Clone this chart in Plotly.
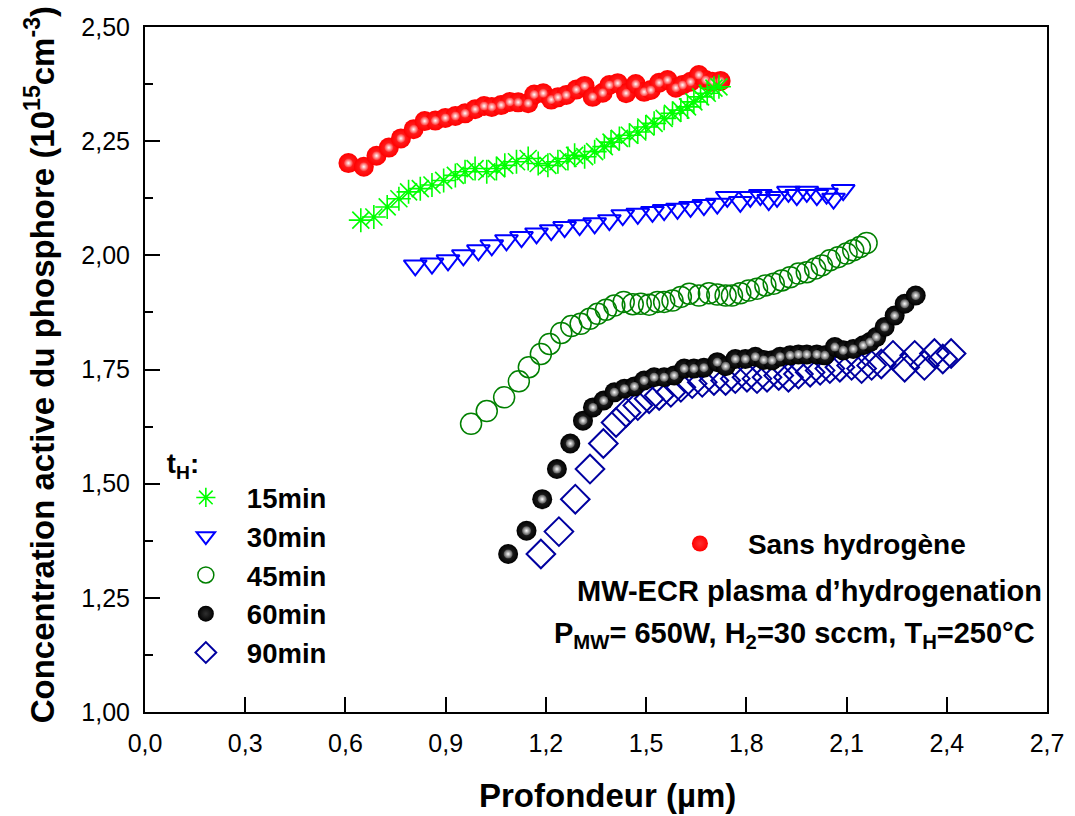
import plotly.graph_objects as go

# Profondeur (µm) / concentration active (1e15 cm^-3)
sans_h_x = [0.609, 0.655, 0.693, 0.730, 0.766, 0.804, 0.837, 0.869, 0.899, 0.929, 0.958, 0.988,
            1.015, 1.038, 1.066, 1.092, 1.117, 1.147, 1.165, 1.192, 1.216, 1.236, 1.261, 1.291,
            1.316, 1.340, 1.370, 1.390, 1.415, 1.440, 1.469, 1.494, 1.514, 1.539, 1.564, 1.589,
            1.609, 1.633, 1.658, 1.678, 1.698, 1.723]
sans_h_y = [2.202, 2.194, 2.218, 2.236, 2.256, 2.276, 2.294, 2.295, 2.301, 2.305, 2.311, 2.320,
            2.327, 2.325, 2.329, 2.336, 2.335, 2.333, 2.352, 2.355, 2.341, 2.346, 2.351, 2.363,
            2.371, 2.347, 2.356, 2.373, 2.377, 2.355, 2.375, 2.358, 2.362, 2.378, 2.384, 2.367,
            2.373, 2.380, 2.395, 2.384, 2.380, 2.382]

t15_x = [0.646, 0.685, 0.725, 0.760, 0.789, 0.824, 0.859, 0.894, 0.929, 0.958, 0.988, 1.023,
         1.052, 1.077, 1.112, 1.147, 1.177, 1.206, 1.236, 1.266, 1.286, 1.316, 1.346, 1.375,
         1.395, 1.420, 1.450, 1.475, 1.499, 1.524, 1.554, 1.579, 1.604, 1.624, 1.643, 1.663,
         1.683, 1.703, 1.718]
t15_y = [2.077, 2.084, 2.106, 2.124, 2.139, 2.146, 2.154, 2.164, 2.175, 2.183, 2.190, 2.183,
         2.190, 2.197, 2.205, 2.212, 2.201, 2.197, 2.205, 2.212, 2.219, 2.216, 2.227, 2.238,
         2.248, 2.256, 2.263, 2.270, 2.281, 2.289, 2.300, 2.311, 2.318, 2.325, 2.336, 2.347,
         2.355, 2.366, 2.369]

t30_x = [0.809, 0.859, 0.907, 0.953, 0.998, 1.038, 1.082, 1.127, 1.172, 1.216, 1.256, 1.301,
         1.346, 1.390, 1.430, 1.475, 1.519, 1.554, 1.594, 1.633, 1.673, 1.713, 1.743, 1.782,
         1.812, 1.842, 1.867, 1.892, 1.926, 1.951, 1.981, 2.011, 2.040, 2.061, 2.090]
t30_y = [1.978, 1.982, 1.989, 2.000, 2.011, 2.022, 2.033, 2.040, 2.048, 2.055, 2.062, 2.066,
         2.070, 2.077, 2.088, 2.091, 2.095, 2.099, 2.102, 2.106, 2.110, 2.113, 2.128, 2.117,
         2.128, 2.132, 2.121, 2.128, 2.139, 2.132, 2.139, 2.132, 2.135, 2.124, 2.143]

t45_x = [0.976, 1.023, 1.075, 1.119, 1.149, 1.185, 1.211, 1.246, 1.276, 1.304, 1.331, 1.355,
         1.380, 1.405, 1.433, 1.460, 1.484, 1.509, 1.534, 1.554, 1.579, 1.604, 1.629, 1.658,
         1.688, 1.713, 1.738, 1.757, 1.782, 1.807, 1.832, 1.857, 1.882, 1.906, 1.931, 1.956,
         1.981, 2.006, 2.026, 2.050, 2.075, 2.100, 2.120, 2.140, 2.160]
t45_y = [1.631, 1.659, 1.689, 1.724, 1.755, 1.784, 1.806, 1.830, 1.845, 1.850, 1.861, 1.872,
         1.881, 1.890, 1.898, 1.893, 1.894, 1.892, 1.898, 1.898, 1.901, 1.909, 1.916, 1.912,
         1.917, 1.914, 1.912, 1.912, 1.917, 1.923, 1.927, 1.934, 1.938, 1.945, 1.952, 1.960,
         1.963, 1.971, 1.978, 1.989, 1.996, 2.004, 2.011, 2.018, 2.027]

t60_x = [1.087, 1.142, 1.189, 1.233, 1.273, 1.311, 1.341, 1.373, 1.405, 1.435, 1.465, 1.494,
         1.524, 1.554, 1.584, 1.614, 1.643, 1.673, 1.713, 1.738, 1.767, 1.797, 1.827, 1.852,
         1.877, 1.901, 1.931, 1.956, 1.981, 2.011, 2.035, 2.065, 2.090, 2.120, 2.150, 2.170,
         2.189, 2.214, 2.244, 2.274, 2.307]
t60_y = [1.346, 1.397, 1.466, 1.532, 1.588, 1.638, 1.667, 1.682, 1.700, 1.708, 1.713, 1.726,
         1.733, 1.733, 1.737, 1.752, 1.752, 1.754, 1.766, 1.757, 1.773, 1.773, 1.778, 1.771,
         1.770, 1.778, 1.781, 1.783, 1.783, 1.783, 1.781, 1.799, 1.792, 1.795, 1.803, 1.810,
         1.821, 1.843, 1.868, 1.894, 1.912]

t90_x = [1.185, 1.239, 1.288, 1.332, 1.372, 1.410, 1.440, 1.475, 1.509, 1.539, 1.574, 1.604,
         1.638, 1.668, 1.703, 1.738, 1.767, 1.802, 1.832, 1.862, 1.897, 1.926, 1.956, 1.991,
         2.021, 2.050, 2.080, 2.115, 2.145, 2.175, 2.204, 2.239, 2.274, 2.304, 2.333, 2.363,
         2.388, 2.413]
t90_y = [1.346, 1.395, 1.466, 1.532, 1.588, 1.634, 1.656, 1.671, 1.686, 1.693, 1.700, 1.711,
         1.719, 1.722, 1.726, 1.726, 1.730, 1.733, 1.730, 1.733, 1.737, 1.733, 1.740, 1.744,
         1.748, 1.752, 1.755, 1.759, 1.752, 1.759, 1.762, 1.781, 1.755, 1.781, 1.759, 1.785,
         1.773, 1.785]

x_ticks = [0.0, 0.3, 0.6, 0.9, 1.2, 1.5, 1.8, 2.1, 2.4, 2.7]
y_ticks = [1.00, 1.25, 1.50, 1.75, 2.00, 2.25, 2.50]

FONT = "Liberation Sans, Arial, sans-serif"
LABEL_FONT = dict(family=FONT, size=28, color="black", weight="bold")
LEGEND_FONT = dict(family=FONT, size=27.5, color="black", weight="bold")

fig = go.Figure()

# reference profile without hydrogen: red shaded spheres
fig.add_trace(go.Scatter(
    x=sans_h_x, y=sans_h_y, mode="markers", name="Sans hydrogène",
    legend="legend2",
    marker=dict(symbol="circle", size=20, color="#ff0000",
                gradient=dict(type="radial", color="#ff3030"), line=dict(width=0)),
))
fig.add_trace(go.Scatter(
    x=sans_h_x, y=sans_h_y, mode="markers", showlegend=False, hoverinfo="skip",
    marker=dict(symbol="circle", size=9, color="#ff3030",
                gradient=dict(type="radial", color="#ffffff"), line=dict(width=0)),
))

fig.add_trace(go.Scatter(
    x=t15_x, y=t15_y, mode="markers", name="15min", legendrank=1,
    marker=dict(symbol="asterisk-open", size=20, color="#00ff00",
                line=dict(width=1.6, color="#00ff00")),
))
fig.add_trace(go.Scatter(
    x=t30_x, y=t30_y, mode="markers", name="30min", legendrank=2,
    marker=dict(symbol="triangle-down-open", size=20, color="#0000ff",
                line=dict(width=2, color="#0000ff")),
))
fig.add_trace(go.Scatter(
    x=t45_x, y=t45_y, mode="markers", name="45min", legendrank=3,
    marker=dict(symbol="circle-open", size=21, color="#008000",
                line=dict(width=1.5, color="#008000")),
))
fig.add_trace(go.Scatter(
    x=t90_x, y=t90_y, mode="markers", name="90min", legendrank=5,
    marker=dict(symbol="diamond-open", size=22, color="#0000a0",
                line=dict(width=2, color="#0000a0")),
))
fig.add_trace(go.Scatter(
    x=t60_x, y=t60_y, mode="markers", name="60min", legendrank=4,
    marker=dict(symbol="circle", size=20, color="#000000",
                gradient=dict(type="radial", color="#303030"), line=dict(width=0)),
))
fig.add_trace(go.Scatter(
    x=t60_x, y=t60_y, mode="markers", showlegend=False, hoverinfo="skip",
    marker=dict(symbol="circle", size=9, color="#505050",
                gradient=dict(type="radial", color="#ffffff"), line=dict(width=0)),
))

axis_common = dict(
    showline=True, linewidth=2, linecolor="black", mirror=True,
    ticks="inside", ticklen=15, tickwidth=2, tickcolor="black",
    showgrid=False, zeroline=False,
    tickfont=dict(family=FONT, size=25, color="black"),
)

fig.update_layout(
    width=1075, height=816,
    margin=dict(l=145, r=28, t=27, b=104),
    paper_bgcolor="white", plot_bgcolor="white",
    separators=",.",
    xaxis=dict(range=[0, 2.7], tickvals=x_ticks, tickformat=".1f",
               ticklabelstandoff=8, **axis_common),
    yaxis=dict(range=[1, 2.5], tickvals=y_ticks, tickformat=".2f",
               ticklabelstandoff=8,
               minor=dict(ticks="inside", ticklen=8, tickwidth=2, tickcolor="black", dtick=0.125),
               **axis_common),
    legend=dict(
        x=0.022, y=0.401, xanchor="left", yanchor="top",
        bgcolor="rgba(0,0,0,0)", borderwidth=0,
        font=LEGEND_FONT,
        title=dict(text="t<sub>H</sub>:", font=LEGEND_FONT),
        tracegroupgap=0, itemwidth=72,
    ),
    legend2=dict(
        x=0.562, y=0.282, xanchor="left", yanchor="top",
        bgcolor="rgba(0,0,0,0)", borderwidth=0,
        font=LABEL_FONT,
        itemwidth=86,
    ),
    annotations=[
        dict(text="MW-ECR plasma d’hydrogenation", x=0.737, y=0.1766, xref="paper", yref="paper",
             showarrow=False, xanchor="center", yanchor="middle",
             font=dict(family=FONT, size=29, color="black", weight="bold")),
        dict(text="P<sub>MW</sub>= 650W, H<sub>2</sub>=30 sccm, T<sub>H</sub>=250°C",
             x=0.7206, y=0.113, xref="paper", yref="paper",
             showarrow=False, xanchor="center", yanchor="middle",
             font=dict(family=FONT, size=29, color="black", weight="bold")),
        dict(text="Profondeur (µm)", x=0.513, y=-0.122, xref="paper", yref="paper",
             showarrow=False, xanchor="center", yanchor="middle",
             font=dict(family=FONT, size=33, color="black", weight="bold")),
        dict(text="Concentration active du phosphore (10<sup>15</sup>cm<sup>-3</sup>)",
             x=-0.116, y=0.5066, xref="paper", yref="paper", textangle=-90,
             showarrow=False, xanchor="center", yanchor="middle",
             font=dict(family=FONT, size=33, color="black", weight="bold")),
    ],
)

fig.write_html("out.html")
